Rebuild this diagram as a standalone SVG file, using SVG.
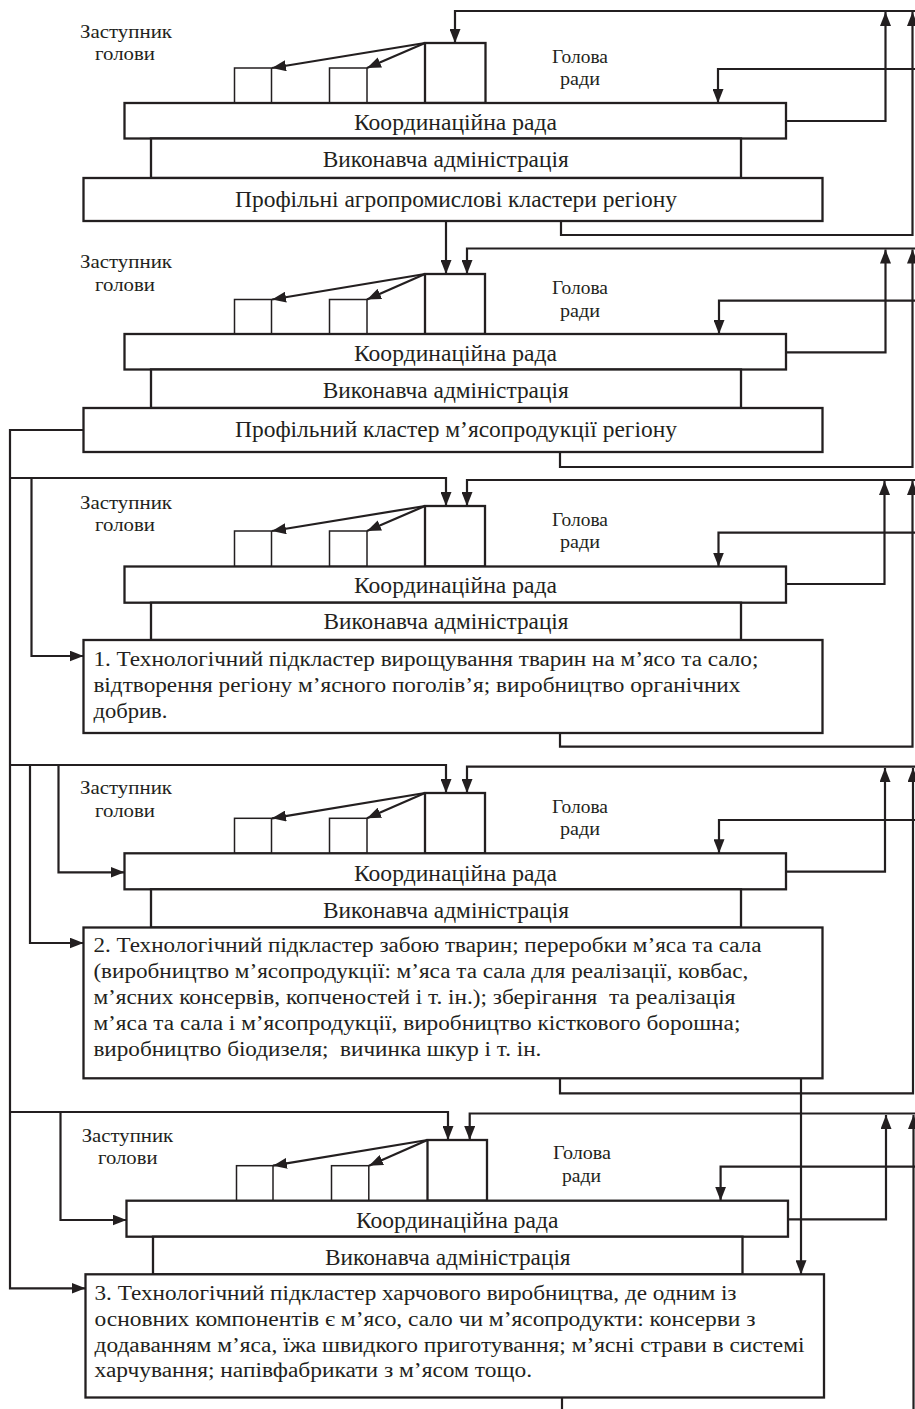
<svg xmlns="http://www.w3.org/2000/svg" width="915" height="1409" viewBox="0 0 915 1409">
<style>
.box{fill:#fff;stroke:#231f20;stroke-width:2.3}
.sb{fill:#fff;stroke:#231f20;stroke-width:1.5}
.ln{fill:none;stroke:#231f20;stroke-width:2.2;marker-end:url(#ah)}
.pl{fill:none;stroke:#231f20;stroke-width:2.2}
text{font-family:"Liberation Serif","Times New Roman",serif;fill:#231f20}
.lab{font-size:23.5px}
.sm{font-size:19.5px}
.bt{font-size:20px}
</style>
<defs>
<marker id="ah" markerUnits="userSpaceOnUse" markerWidth="15" markerHeight="11" refX="14" refY="5.5" orient="auto">
<path d="M0,0 L14,5.5 L0,11 z" fill="#231f20"/>
</marker>
</defs>
<rect width="915" height="1409" fill="#fff"/>

<!-- Section 1 -->
<g id="s1-deputy-label"><text class="sm" x="80" y="37.5" textLength="92" lengthAdjust="spacingAndGlyphs">Заступник</text><text class="sm" x="95" y="60" textLength="60" lengthAdjust="spacingAndGlyphs">голови</text></g>
<g id="s1-head-label"><text class="sm" x="552" y="62.5" textLength="56" lengthAdjust="spacingAndGlyphs">Голова</text><text class="sm" x="560" y="85" textLength="40" lengthAdjust="spacingAndGlyphs">ради</text></g>
<g id="s1-head"><rect class="box" x="425" y="43" width="60.5" height="60"/></g>
<g id="s1-dep1"><rect class="sb" x="234.5" y="68" width="37" height="35"/></g>
<g id="s1-dep2"><rect class="sb" x="329.5" y="68" width="37.5" height="35"/></g>
<g id="s1-coord"><rect class="box" x="124.5" y="103" width="661.5" height="35.5"/><text class="lab" x="354" y="130" textLength="203" lengthAdjust="spacingAndGlyphs">Координаційна рада</text></g>
<g id="s1-admin"><rect class="box" x="151" y="138.5" width="590" height="39.5"/><text class="lab" x="322.7" y="167" textLength="246" lengthAdjust="spacingAndGlyphs">Виконавча адміністрація</text></g>
<g id="s1-cluster"><rect class="box" x="83.5" y="178" width="739" height="43"/><text class="lab" x="235" y="207" textLength="442" lengthAdjust="spacingAndGlyphs">Профільні агропромислові кластери регіону</text></g>

<!-- Section 2 -->
<g id="s2-deputy-label"><text class="sm" x="80" y="267.7" textLength="92" lengthAdjust="spacingAndGlyphs">Заступник</text><text class="sm" x="95" y="290.7" textLength="60" lengthAdjust="spacingAndGlyphs">голови</text></g>
<g id="s2-head-label"><text class="sm" x="552" y="294.3" textLength="56" lengthAdjust="spacingAndGlyphs">Голова</text><text class="sm" x="560" y="317.3" textLength="40" lengthAdjust="spacingAndGlyphs">ради</text></g>
<g id="s2-head"><rect class="box" x="425" y="274" width="60" height="60"/></g>
<g id="s2-dep1"><rect class="sb" x="234.5" y="299.5" width="37" height="34.5"/></g>
<g id="s2-dep2"><rect class="sb" x="329.5" y="299.5" width="37.5" height="34.5"/></g>
<g id="s2-coord"><rect class="box" x="124.5" y="334" width="661.5" height="35.5"/><text class="lab" x="354" y="361" textLength="203" lengthAdjust="spacingAndGlyphs">Координаційна рада</text></g>
<g id="s2-admin"><rect class="box" x="151" y="369.5" width="590" height="38.5"/><text class="lab" x="322.7" y="397.7" textLength="246" lengthAdjust="spacingAndGlyphs">Виконавча адміністрація</text></g>
<g id="s2-cluster"><rect class="box" x="83.5" y="408" width="739" height="44"/><text class="lab" x="235" y="436.5" textLength="442" lengthAdjust="spacingAndGlyphs">Профільний кластер м’ясопродукції регіону</text></g>

<!-- Section 3 -->
<g id="s3-deputy-label"><text class="sm" x="80" y="508.5" textLength="92" lengthAdjust="spacingAndGlyphs">Заступник</text><text class="sm" x="95" y="530.5" textLength="60" lengthAdjust="spacingAndGlyphs">голови</text></g>
<g id="s3-head-label"><text class="sm" x="552" y="525.7" textLength="56" lengthAdjust="spacingAndGlyphs">Голова</text><text class="sm" x="560" y="547.5" textLength="40" lengthAdjust="spacingAndGlyphs">ради</text></g>
<g id="s3-head"><rect class="box" x="425" y="506" width="60" height="60.5"/></g>
<g id="s3-dep1"><rect class="sb" x="234.5" y="531" width="37" height="35.5"/></g>
<g id="s3-dep2"><rect class="sb" x="329.5" y="531" width="37.5" height="35.5"/></g>
<g id="s3-coord"><rect class="box" x="124.5" y="566.5" width="661.5" height="36.2"/><text class="lab" x="354" y="592.7" textLength="203" lengthAdjust="spacingAndGlyphs">Координаційна рада</text></g>
<g id="s3-admin"><rect class="box" x="151" y="602.7" width="590" height="37.3"/><text class="lab" x="323.5" y="629.3" textLength="245" lengthAdjust="spacingAndGlyphs">Виконавча адміністрація</text></g>
<g id="s3-sub1"><rect class="box" x="83.5" y="640" width="739" height="93"/>
<text class="bt" x="93.4" y="666" textLength="665" lengthAdjust="spacingAndGlyphs">1. Технологічний підкластер вирощування тварин на м’ясо та сало;</text>
<text class="bt" x="93.4" y="692" textLength="647" lengthAdjust="spacingAndGlyphs">відтворення регіону м’ясного поголів’я; виробництво органічних</text>
<text class="bt" x="93.4" y="718" textLength="74" lengthAdjust="spacingAndGlyphs">добрив.</text></g>

<!-- Section 4 -->
<g id="s4-deputy-label"><text class="sm" x="80" y="794.3" textLength="92" lengthAdjust="spacingAndGlyphs">Заступник</text><text class="sm" x="95" y="817.3" textLength="60" lengthAdjust="spacingAndGlyphs">голови</text></g>
<g id="s4-head-label"><text class="sm" x="552" y="812.7" textLength="56" lengthAdjust="spacingAndGlyphs">Голова</text><text class="sm" x="560" y="835" textLength="40" lengthAdjust="spacingAndGlyphs">ради</text></g>
<g id="s4-head"><rect class="box" x="425" y="793" width="60" height="60.3"/></g>
<g id="s4-dep1"><rect class="sb" x="234.5" y="818.3" width="37" height="35"/></g>
<g id="s4-dep2"><rect class="sb" x="329.5" y="818.3" width="37.5" height="35"/></g>
<g id="s4-coord"><rect class="box" x="124.5" y="853.3" width="661.5" height="36"/><text class="lab" x="354" y="881" textLength="203" lengthAdjust="spacingAndGlyphs">Координаційна рада</text></g>
<g id="s4-admin"><rect class="box" x="151" y="889.3" width="590" height="38.2"/><text class="lab" x="323" y="917.5" textLength="246" lengthAdjust="spacingAndGlyphs">Виконавча адміністрація</text></g>
<g id="s4-sub2"><rect class="box" x="83.5" y="927.5" width="739" height="150.8"/>
<text class="bt" x="93.4" y="952" textLength="668" lengthAdjust="spacingAndGlyphs">2. Технологічний підкластер забою тварин; переробки м’яса та сала</text>
<text class="bt" x="93.4" y="978" textLength="655" lengthAdjust="spacingAndGlyphs">(виробництво м’ясопродукції: м’яса та сала для реалізації, ковбас,</text>
<text class="bt" x="93.4" y="1004" textLength="642" lengthAdjust="spacingAndGlyphs" xml:space="preserve">м’ясних консервів, копченостей і т. ін.); зберігання  та реалізація</text>
<text class="bt" x="93.4" y="1030" textLength="647" lengthAdjust="spacingAndGlyphs">м’яса та сала і м’ясопродукції, виробництво кісткового борошна;</text>
<text class="bt" x="93.4" y="1056" textLength="448" lengthAdjust="spacingAndGlyphs" xml:space="preserve">виробництво біодизеля;  вичинка шкур і т. ін.</text></g>

<!-- Section 5 -->
<g id="s5-deputy-label"><text class="sm" x="81.7" y="1141.7" textLength="91.5" lengthAdjust="spacingAndGlyphs">Заступник</text><text class="sm" x="98" y="1164" textLength="59.5" lengthAdjust="spacingAndGlyphs">голови</text></g>
<g id="s5-head-label"><text class="sm" x="553" y="1159.3" textLength="58" lengthAdjust="spacingAndGlyphs">Голова</text><text class="sm" x="562" y="1181.7" textLength="39" lengthAdjust="spacingAndGlyphs">ради</text></g>
<g id="s5-head"><rect class="box" x="427.5" y="1140" width="59.5" height="60.7"/></g>
<g id="s5-dep1"><rect class="sb" x="236.5" y="1165.7" width="36.5" height="35"/></g>
<g id="s5-dep2"><rect class="sb" x="331.5" y="1165.7" width="37.3" height="35"/></g>
<g id="s5-coord"><rect class="box" x="126.5" y="1200.7" width="661.5" height="36"/><text class="lab" x="356" y="1228" textLength="202.5" lengthAdjust="spacingAndGlyphs">Координаційна рада</text></g>
<g id="s5-admin"><rect class="box" x="153" y="1236.7" width="589.5" height="37.6"/><text class="lab" x="325" y="1264.5" textLength="245.6" lengthAdjust="spacingAndGlyphs">Виконавча адміністрація</text></g>
<g id="s5-sub3"><rect class="box" x="85.5" y="1274.3" width="738.5" height="123.2"/>
<text class="bt" x="94.5" y="1300" textLength="642" lengthAdjust="spacingAndGlyphs">3. Технологічний підкластер харчового виробництва, де одним із</text>
<text class="bt" x="94.5" y="1326" textLength="661" lengthAdjust="spacingAndGlyphs">основних компонентів є м’ясо, сало чи м’ясопродукти: консерви з</text>
<text class="bt" x="94.5" y="1352" textLength="710" lengthAdjust="spacingAndGlyphs">додаванням м’яса, їжа швидкого приготування; м’ясні страви в системі</text>
<text class="bt" x="94.5" y="1377" textLength="437.5" lengthAdjust="spacingAndGlyphs">харчування; напівфабрикати з м’ясом тощо.</text></g>

<g id="connectors">
<!-- S1 -->
<path class="ln" d="M915,11 H455 V43"/>
<path class="ln" d="M915,69 H718 V103"/>
<path class="ln" d="M786,121 H885.5 V12"/>
<path class="ln" d="M561,221 V235 H912.5 V12"/>
<path class="ln" d="M446,221 V274"/>
<path class="ln" d="M425,43 L272,68"/>
<path class="ln" d="M425,43 L367,68"/>
<!-- S2 -->
<path class="ln" d="M915,248.5 H467 V274"/>
<path class="ln" d="M915,300.7 H719 V334"/>
<path class="ln" d="M786,352.3 H885.5 V249.5"/>
<path class="ln" d="M560,452 V467 H912.5 V249.5"/>
<path class="ln" d="M425,274 L272,299.5"/>
<path class="ln" d="M425,274 L367,299.5"/>
<path class="ln" d="M83.5,430 H10 V1288.3 H85.5"/>
<!-- S3 -->
<path class="ln" d="M10,478 H446 V506"/>
<path class="ln" d="M31.5,478 V656 H83.5"/>
<path class="ln" d="M915,480 H467 V506"/>
<path class="ln" d="M915,532.7 H718.5 V566.5"/>
<path class="ln" d="M786,584 H884.5 V481"/>
<path class="ln" d="M560,733 V746.7 H912.5 V481"/>
<path class="ln" d="M425,506 L272,531"/>
<path class="ln" d="M425,506 L367,531"/>
<!-- S4 -->
<path class="ln" d="M10,765 H446 V793"/>
<path class="ln" d="M30,765 V943 H83.5"/>
<path class="ln" d="M58.5,765 V872.3 H124.5"/>
<path class="ln" d="M915,766.7 H467 V793"/>
<path class="ln" d="M915,820 H719 V853.3"/>
<path class="ln" d="M786,871.7 H885 V768"/>
<path class="ln" d="M560,1078.3 V1093.3 H913 V768"/>
<path class="ln" d="M425,793 L272,818.3"/>
<path class="ln" d="M425,793 L367,818.3"/>
<path class="ln" d="M801,1078.3 V1274.3"/>
<!-- S5 -->
<path class="ln" d="M10,1112 H448 V1140"/>
<path class="ln" d="M60.5,1112 V1220 H126.5"/>
<path class="ln" d="M915,1113.5 H469.7 V1140"/>
<path class="ln" d="M915,1166.7 H720.6 V1200.7"/>
<path class="ln" d="M788,1219.3 H886 V1115"/>
<path class="ln" d="M913.5,1409 V1115"/>
<path class="pl" d="M562,1397.5 V1409"/>
<path class="ln" d="M427.5,1140 L273,1165.7"/>
<path class="ln" d="M427.5,1140 L369,1165.7"/>
</g>
</svg>
